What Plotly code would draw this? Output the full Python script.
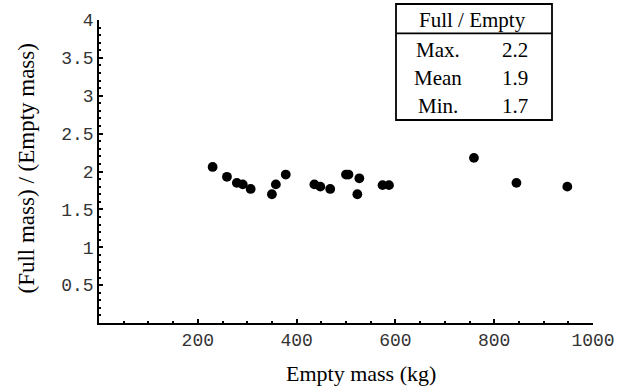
import numpy as np
import plotly.graph_objects as go

# Data
empty_mass = [230, 259, 279, 291, 307, 350, 358, 378, 436, 448, 468, 500, 505, 527, 523, 574, 587, 759, 845, 948]
ratio = [2.06, 1.93, 1.85, 1.83, 1.77, 1.70, 1.83, 1.96, 1.83, 1.80, 1.77, 1.96, 1.96, 1.91, 1.70, 1.82, 1.82, 2.18, 1.85, 1.80]

x_major = [200, 400, 600, 800, 1000]
y_major = [0.5, 1, 1.5, 2, 2.5, 3, 3.5, 4]
y_labels = ["0.5", "1", "1.5", "2", "2.5", "3", "3.5", "4"]

table_header = "Full / Empty"
table_rows = ["Max.", "Mean", "Min."]
table_vals = ["2.2", "1.9", "1.7"]

W, H = 629, 391
ML, MR, MT, MB = 99, 36, 20, 68
PW, PH = W - ML - MR, H - MT - MB


def px(xp):
    return (xp - ML) / PW


def py(yp):
    return (H - MB - yp) / PH


fig = go.Figure()
fig.add_trace(go.Scatter(x=empty_mass, y=ratio, mode="markers",
                         marker=dict(color="black", size=9.8, line=dict(width=0)),
                         showlegend=False, cliponaxis=False))

tickfont = dict(family="Courier New, Liberation Mono, monospace", size=18, color="#333")

fig.update_xaxes(range=[0, 1000], showline=True, linecolor="black", linewidth=1.5,
                 showgrid=False, zeroline=False, ticks="inside", ticklen=4, tickwidth=1.5,
                 tickcolor="black", tickmode="array", tickvals=x_major,
                 ticktext=[str(v) for v in x_major], tickfont=tickfont,
                 minor=dict(tickmode="array", tickvals=list(np.arange(50, 1000, 50)),
                            ticks="inside", ticklen=2, tickwidth=1.5, tickcolor="black",
                            showgrid=False))
fig.update_yaxes(range=[0, 4], showline=True, linecolor="black", linewidth=1.5,
                 showgrid=False, zeroline=False, ticks="inside", ticklen=4, tickwidth=1.5,
                 tickcolor="black", tickmode="array", tickvals=y_major, ticktext=y_labels,
                 tickfont=tickfont,
                 minor=dict(tickmode="array", tickvals=list(np.round(np.arange(0.1, 4.0, 0.1), 2)),
                            ticks="inside", ticklen=2, tickwidth=1.5, tickcolor="black",
                            showgrid=False))

serif = "Times New Roman, Liberation Serif, serif"
annots = []
annots.append(dict(text="Empty mass (kg)", x=px(360.5), y=py(373.5), xref="paper", yref="paper",
                   showarrow=False, xanchor="center", yanchor="middle",
                   font=dict(family=serif, size=22, color="black")))
annots.append(dict(text="(Full mass) / (Empty mass)", x=px(26), y=py(168.5), xref="paper", yref="paper",
                   showarrow=False, xanchor="center", yanchor="middle", textangle=-90,
                   font=dict(family=serif, size=23, color="black")))
annots.append(dict(text=table_header, x=px(472.5), y=py(20), xref="paper", yref="paper",
                   showarrow=False, xanchor="center", yanchor="middle",
                   font=dict(family=serif, size=21, color="black")))
row_y = [49.5, 78, 106]
for lab, val, ry in zip(table_rows, table_vals, row_y):
    annots.append(dict(text=lab, x=px(437.5), y=py(ry), xref="paper", yref="paper",
                       showarrow=False, xanchor="center", yanchor="middle",
                       font=dict(family=serif, size=21, color="black")))
    annots.append(dict(text=val, x=px(515), y=py(ry), xref="paper", yref="paper",
                       showarrow=False, xanchor="center", yanchor="middle",
                       font=dict(family=serif, size=21, color="black")))

shapes = [
    dict(type="rect", xref="paper", yref="paper", x0=px(396), x1=px(552), y0=py(120), y1=py(4),
         line=dict(color="black", width=1.8), fillcolor="white", layer="above"),
    dict(type="line", xref="paper", yref="paper", x0=px(396), x1=px(552), y0=py(33.3), y1=py(33.3),
         line=dict(color="black", width=1.8), layer="above"),
]

fig.update_layout(width=W, height=H, margin=dict(l=ML, r=MR, t=MT, b=MB),
                  paper_bgcolor="white", plot_bgcolor="white",
                  annotations=annots, shapes=shapes)

fig.write_html("out.html")
